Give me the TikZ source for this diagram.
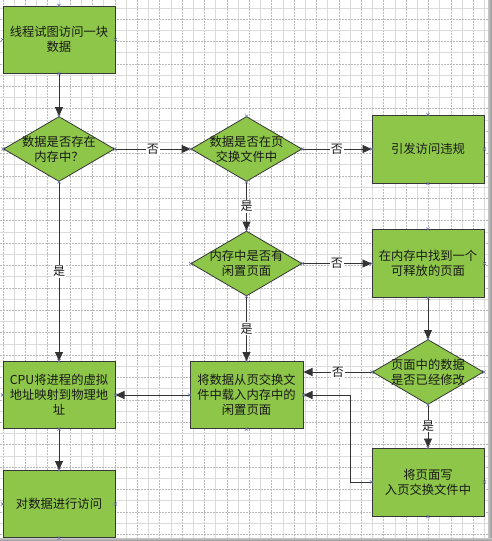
\documentclass[tikz,border=0pt]{standalone}
\usepackage{fontspec}
\newfontfamily\cjk{Noto Sans CJK SC}
\usetikzlibrary{shapes.geometric,arrows.meta}
\definecolor{gfill}{RGB}{141,198,72}
\definecolor{gdraw}{RGB}{55,55,55}
\definecolor{cpt}{RGB}{105,115,165}
\tikzset{
  box/.style={draw=gdraw, fill=gfill, line width=1pt, minimum width=112pt, minimum height=67pt,
    inner sep=0pt, align=center, font=\cjk\fontsize{12.3}{15}\selectfont, text=black!90},
  dia/.style={draw=gdraw, fill=gfill, line width=0.8pt, diamond, minimum width=111pt,
    minimum height=65pt, inner sep=0pt},
  dtext/.style={align=center, font=\cjk\fontsize{12.3}{15}\selectfont, text=black!90, inner sep=0pt},
  arr/.style={draw=black!80, line width=0.9pt, -{Triangle[length=9pt,width=8pt]}},
  lbl/.style={fill=white, inner sep=1pt, font=\cjk\fontsize{12}{14}\selectfont, text=black!90},
  gridminor/.style={draw=gray!28, line width=0.5pt},
  gridmajor/.style={draw=gray!55, line width=0.5pt, dash pattern=on 1.5pt off 1.5pt},
  cptmark/.style={draw=cpt, line width=0.5pt},
}
\newcommand\cptmarks[1]{%
  \foreach \an in {north,south,east,west}{%
    \draw[cptmark] (#1.\an) +(-1.6,-1.6) -- +(1.6,1.6) +(-1.6,1.6) -- +(1.6,-1.6);}}
\begin{document}
\begin{tikzpicture}[x=1pt,y=-1pt]
\useasboundingbox (0,0) rectangle (492,541);
\fill[white] (0,0) rectangle (492,541);
% grid
\foreach \i in {0,...,43}{%
  \pgfmathsetmacro\xx{2.8+\i*11.2}%
  \ifodd\i\relax \draw[gridminor] (\xx,0) -- (\xx,538);
  \else \draw[gridmajor] (\xx,0) -- (\xx,538); \fi}
\foreach \i in {0,...,47}{%
  \pgfmathsetmacro\yy{7.9+\i*11.2}%
  \ifodd\i\relax \draw[gridmajor] (0,\yy) -- (488,\yy);
  \else \draw[gridminor] (0,\yy) -- (488,\yy); \fi}
% frame shadow
\shade[left color=gray!45, right color=gray!85] (488,0) rectangle (492,541);
\shade[top color=gray!45, bottom color=gray!85] (0,538) rectangle (492,541);

% nodes
\node[box] (b1) at (59,39.5) {线程试图访问一块\\数据};
\node[dia, label={[dtext]center:{数据是否存在\\内存中？}}] (d1) at (59,149) {};
\node[dia, label={[dtext]center:{数据是否在页\\交换文件中}}] (d2) at (246.5,149) {};
\node[box, minimum height=68pt] (bv) at (428,149) {引发访问违规};
\node[dia, label={[dtext]center:{内存中是否有\\闲置页面}}] (d3) at (246.5,263.5) {};
\node[box, minimum height=68pt] (bf) at (428,263.5) {在内存中找到一个\\可释放的页面};
\node[dia, label={[dtext]center:{页面中的数据\\是否已经修改}}] (d4) at (428,372) {};
\node[box, minimum width=113pt] (bl) at (246.5,395) {将数据从页交换文\\件中载入内存中的\\闲置页面};
\node[box] (bc) at (59,395) {CPU将进程的虚拟\\地址映射到物理地\\址};
\node[box] (ba) at (59,504) {对数据进行访问};
\node[box, minimum height=68pt] (bw) at (428,482) {将页面写\\入页交换文件中};

% connectors
\draw[arr] (b1.south) -- (d1.north);
\draw[arr] (d1.east) -- node[lbl]{否} (d2.west);
\draw[arr] (d2.east) -- node[lbl]{否} (bv.west);
\draw[arr] (d2.south) -- node[lbl]{是} (d3.north);
\draw[arr] (d1.south) -- node[lbl]{是} (bc.north);
\draw[arr] (d3.east) -- node[lbl]{否} (bf.west);
\draw[arr] (d3.south) -- node[lbl]{是} (bl.north);
\draw[arr] (bf.south) -- (d4.north);
\draw[arr] (d4.west) -- node[lbl]{否} (d4.west -| bl.east);
\draw[arr] (d4.south) -- node[lbl]{是} (bw.north);
\draw[arr] (bw.west) -- ++(-21,0) |- (bl.east);
\draw[arr] (bl.west) -- (bc.east);
\draw[arr] (bc.south) -- (ba.north);

% connection points
\foreach \n in {b1,d1,d2,bv,d3,bf,d4,bl,bc,ba,bw}{\cptmarks{\n}}
\end{tikzpicture}
\end{document}
